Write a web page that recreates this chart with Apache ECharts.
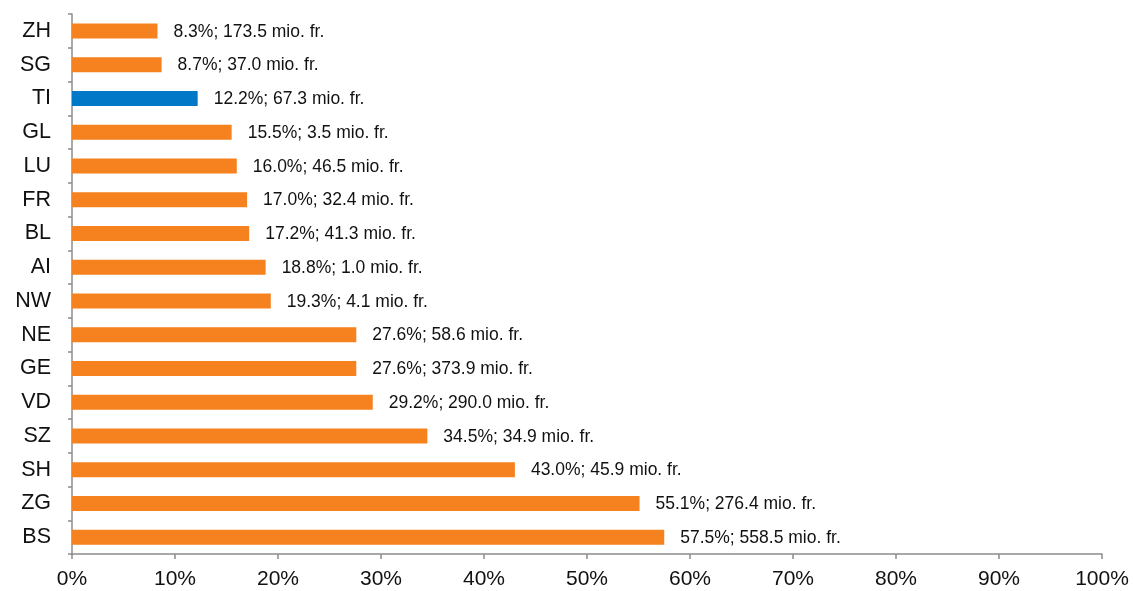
<!DOCTYPE html>
<html>
<head>
<meta charset="utf-8">
<script src="https://cdn.jsdelivr.net/npm/echarts@6/dist/echarts.min.js"></script>
<style>
  html, body { margin: 0; padding: 0; background: #fff; }
  #chart { width: 1133px; height: 591px; }
</style>
</head>
<body>
<div id="chart"></div>
<script>
// cantons, top to bottom
const cantons = ['ZH', 'SG', 'TI', 'GL', 'LU', 'FR', 'BL', 'AI', 'NW', 'NE', 'GE', 'VD', 'SZ', 'SH', 'ZG', 'BS'];
// share in percent
const shares = [8.3, 8.7, 12.2, 15.5, 16.0, 17.0, 17.2, 18.8, 19.3, 27.6, 27.6, 29.2, 34.5, 43.0, 55.1, 57.5];
// amount in mio. fr.
const amounts = ['173.5', '37.0', '67.3', '3.5', '46.5', '32.4', '41.3', '1.0', '4.1', '58.6', '373.9', '290.0', '34.9', '45.9', '276.4', '558.5'];
const highlight = 'TI';

const ORANGE = '#F5821F';
const BLUE = '#0078C8';
const AXIS = '#8c8c8c';
const FONT = '"Liberation Sans", Arial, sans-serif';

const chart = echarts.init(document.getElementById('chart'));

chart.setOption({
    animation: false,
    grid: { left: 72, right: 31, top: 14, bottom: 37, containLabel: false },
    xAxis: {
        type: 'value',
        min: 0,
        max: 100,
        interval: 10,
        axisLine: { show: true, lineStyle: { color: AXIS, width: 1.5 } },
        axisTick: { show: true, length: 5, lineStyle: { color: AXIS, width: 1.5 } },
        splitLine: { show: false },
        axisLabel: {
            formatter: '{value}%',
            color: '#111',
            fontFamily: FONT,
            fontSize: 21,
            margin: 15
        }
    },
    yAxis: {
        type: 'category',
        inverse: true,
        data: cantons,
        axisLine: { show: true, lineStyle: { color: AXIS, width: 1.5 } },
        axisTick: { show: true, length: 4, lineStyle: { color: AXIS, width: 1.5 } },
        axisLabel: {
            color: '#111',
            fontFamily: FONT,
            fontSize: 21.5,
            margin: 21
        }
    },
    series: [{
        type: 'bar',
        barWidth: 15,
        data: shares.map((v, i) => ({
            value: v,
            itemStyle: { color: cantons[i] === highlight ? BLUE : ORANGE }
        })),
        label: {
            show: true,
            position: 'right',
            distance: 16,
            color: '#111',
            fontFamily: FONT,
            fontSize: 17.5,
            offset: [0, 1],
            formatter: p => p.value.toFixed(1) + '%; ' + amounts[p.dataIndex] + ' mio. fr.'
        }
    }]
});
</script>
</body>
</html>
